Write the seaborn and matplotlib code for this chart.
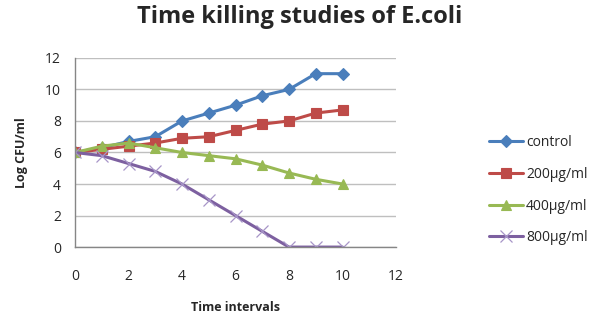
import pandas as pd
import seaborn as sns
import matplotlib.pyplot as plt

# time points and log CFU/ml values
time = [0, 1, 2, 3, 4, 5, 6, 7, 8, 9, 10]
control = [6, 6.3, 6.7, 7, 8, 8.5, 9, 9.6, 10, 11, 11]
dose_200 = [6, 6.2, 6.4, 6.6, 6.9, 7, 7.4, 7.8, 8, 8.5, 8.7]
dose_400 = [6, 6.4, 6.6, 6.3, 6, 5.8, 5.6, 5.2, 4.7, 4.3, 4]
dose_800 = [6, 5.8, 5.3, 4.8, 4, 3, 2, 1, 0, 0, 0]
series_names = ['control', '200µg/ml', '400µg/ml', '800µg/ml']

sns.set_style('white')
plt.rcParams['font.family'] = ['Open Sans', 'DejaVu Sans']

fig = plt.figure(figsize=(6, 3.29), dpi=100)
ax = fig.add_axes([0.125, 0.249, 0.535, 0.575])

styles = [
    ('#4A7EBB', '#4A7EBB', 'D', 6, 0.8, control),
    ('#BE4B48', '#BE4B48', 's', 7, 0.8, dose_200),
    ('#98B954', '#98B954', '^', 7, 0.8, dose_400),
    ('#7D60A0', '#A795C8', 'x', 8, 0.9, dose_800),
]
for name, (col, mcol, mk, ms, mew, vals) in zip(series_names, styles):
    df = pd.DataFrame({'time': time, 'cfu': vals})
    sns.lineplot(data=df, x='time', y='cfu', ax=ax, color=col, linewidth=2.2,
                 marker=mk, markersize=ms, label=name, markeredgewidth=mew,
                 markeredgecolor=mcol)

ax.set_xlim(0, 12)
ax.set_ylim(0, 12)
ax.set_xticks(range(0, 13, 2))
ax.set_yticks(range(0, 13, 2))
ax.yaxis.grid(True, color='#BFBFBF', linewidth=1)
ax.xaxis.grid(False)
for s in ['top', 'right']:
    ax.spines[s].set_visible(False)
for s in ['left', 'bottom']:
    ax.spines[s].set_color('#868686')
    ax.spines[s].set_linewidth(1)
ax.tick_params(axis='y', length=0, labelsize=10, pad=10)
ax.tick_params(axis='x', length=0, labelsize=10, pad=16)

ax.set_xlabel('Time intervals', fontsize=9, fontweight='bold', labelpad=12)
ax.set_ylabel('Log CFU/ml', fontsize=9, fontweight='bold', labelpad=12)
fig.suptitle('Time killing studies of E.coli', fontsize=17, fontweight='bold', x=0.5, y=0.985)

ax.legend(loc='center left', bbox_to_anchor=(1.25, 0.30), frameon=False, fontsize=10,
          handlelength=2.5, labelspacing=1.2, handletextpad=0.2)

fig.savefig('out.png', dpi=100)
